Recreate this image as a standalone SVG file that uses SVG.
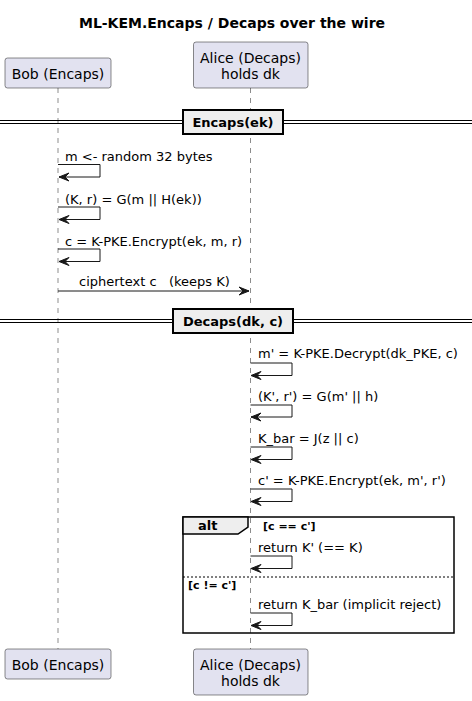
<svg xmlns="http://www.w3.org/2000/svg" width="472" height="701" viewBox="0 0 472 701">
<defs>
<style>
text{font-family:"DejaVu Sans","Liberation Sans",sans-serif;fill:#000}
.title{font-size:14px;font-weight:bold}
.pt{font-size:14px}
.msg{font-size:13px;white-space:pre}
.div{font-size:13px;font-weight:bold}
.cond{font-size:11px;font-weight:bold}
.box{fill:#E2E2F0;stroke:#181818;stroke-width:0.5}
.life{stroke:#181818;stroke-width:0.5;stroke-dasharray:5,5}
.arr{fill:none;stroke:#181818;stroke-width:1}
.head{fill:#181818;stroke:#181818;stroke-width:1}
.dbl{stroke:#000;stroke-width:1}
.dbox{fill:#EEEEEE;stroke:#000;stroke-width:2}
</style>
</defs>
<rect width="472" height="701" fill="#fff"/>
<text class="title" x="232" y="28" text-anchor="middle">ML-KEM.Encaps / Decaps over the wire</text>

<g id="lifelines">
<line class="life" x1="58" y1="88" x2="58" y2="649"/>
<line class="life" x1="250.5" y1="88" x2="250.5" y2="649"/>
</g>

<g id="bob">
<rect class="box" x="5" y="58" width="106" height="30" rx="2.5"/>
<text class="pt" x="58" y="79" text-anchor="middle">Bob (Encaps)</text>
<rect class="box" x="5" y="649" width="106" height="30" rx="2.5"/>
<text class="pt" x="58" y="670" text-anchor="middle">Bob (Encaps)</text>
</g>

<g id="alice">
<rect class="box" x="193.5" y="42" width="114.5" height="46" rx="2.5"/>
<text class="pt" x="250.5" y="63" text-anchor="middle">Alice (Decaps)</text>
<text class="pt" x="250.5" y="79" text-anchor="middle">holds dk</text>
<rect class="box" x="193.5" y="649" width="114.5" height="46" rx="2.5"/>
<text class="pt" x="250.5" y="670" text-anchor="middle">Alice (Decaps)</text>
<text class="pt" x="250.5" y="686" text-anchor="middle">holds dk</text>
</g>

<g id="divider-encaps">
<line class="dbl" x1="0" y1="120.5" x2="472" y2="120.5"/>
<line class="dbl" x1="0" y1="123.5" x2="472" y2="123.5"/>
<rect class="dbox" x="183" y="110" width="100" height="24"/>
<text class="div" x="233" y="127" text-anchor="middle">Encaps(ek)</text>
</g>

<g id="divider-decaps">
<line class="dbl" x1="0" y1="319.5" x2="472" y2="319.5"/>
<line class="dbl" x1="0" y1="322.5" x2="472" y2="322.5"/>
<rect class="dbox" x="173" y="309" width="120" height="24"/>
<text class="div" x="233" y="326" text-anchor="middle">Decaps(dk, c)</text>
</g>

<g id="alt-frame">
<rect x="183" y="517" width="271" height="116" fill="none" stroke="#000" stroke-width="1.5"/>
<path d="M183,517 L248,517 L248,527 L238,534 L183,534 Z" fill="#EEEEEE" stroke="#000" stroke-width="1.5"/>
<text class="div" x="198" y="530">alt</text>
<text class="cond" x="263" y="530">[c == c']</text>
<line x1="183" y1="577" x2="454" y2="577" stroke="#000" stroke-width="1" stroke-dasharray="2,2"/>
<text class="cond" x="188" y="589">[c != c']</text>
</g>

<g id="connectors">
<g id="m1">
<polyline class="arr" points="58,164.5 100,164.5 100,177 59,177"/>
<polygon class="head" points="69,173 59,177 69,181 65,177"/>
<text class="msg" x="65" y="161">m &lt;- random 32 bytes</text>
</g>
<g id="m2">
<polyline class="arr" points="58,207 100,207 100,219.5 59,219.5"/>
<polygon class="head" points="69,215.5 59,219.5 69,223.5 65,219.5"/>
<text class="msg" x="65" y="203.5">(K, r) = G(m || H(ek))</text>
</g>
<g id="m3">
<polyline class="arr" points="58,249 100,249 100,261.5 59,261.5"/>
<polygon class="head" points="69,257.5 59,261.5 69,265.5 65,261.5"/>
<text class="msg" x="65" y="245.5">c = K-PKE.Encrypt(ek, m, r)</text>
</g>
<g id="m4">
<line class="arr" x1="58" y1="291" x2="249" y2="291"/>
<polygon class="head" points="239,287 249,291 239,295 243,291"/>
<text class="msg" x="79" y="286" xml:space="preserve">ciphertext c   (keeps K)</text>
</g>
<g id="m5">
<polyline class="arr" points="250.5,363 292,363 292,375.5 251,375.5"/>
<polygon class="head" points="261,371.5 251,375.5 261,379.5 257,375.5"/>
<text class="msg" x="258" y="358">m' = K-PKE.Decrypt(dk_PKE, c)</text>
</g>
<g id="m6">
<polyline class="arr" points="250.5,405 292,405 292,417 251,417"/>
<polygon class="head" points="261,413 251,417 261,421 257,417"/>
<text class="msg" x="258" y="401">(K', r') = G(m' || h)</text>
</g>
<g id="m7">
<polyline class="arr" points="250.5,447 292,447 292,459.5 251,459.5"/>
<polygon class="head" points="261,455.5 251,459.5 261,463.5 257,459.5"/>
<text class="msg" x="258" y="443">K_bar = J(z || c)</text>
</g>
<g id="m8">
<polyline class="arr" points="250.5,489 292,489 292,501.5 251,501.5"/>
<polygon class="head" points="261,497.5 251,501.5 261,505.5 257,501.5"/>
<text class="msg" x="258" y="485">c' = K-PKE.Encrypt(ek, m', r')</text>
</g>
<g id="m9">
<polyline class="arr" points="250.5,556 292,556 292,568.5 251,568.5"/>
<polygon class="head" points="261,564.5 251,568.5 261,572.5 257,568.5"/>
<text class="msg" x="258" y="551.5">return K' (== K)</text>
</g>
<g id="m10">
<polyline class="arr" points="250.5,613 292,613 292,625.5 251,625.5"/>
<polygon class="head" points="261,621.5 251,625.5 261,629.5 257,625.5"/>
<text class="msg" x="258" y="608.5">return K_bar (implicit reject)</text>
</g>
</g>
</svg>
